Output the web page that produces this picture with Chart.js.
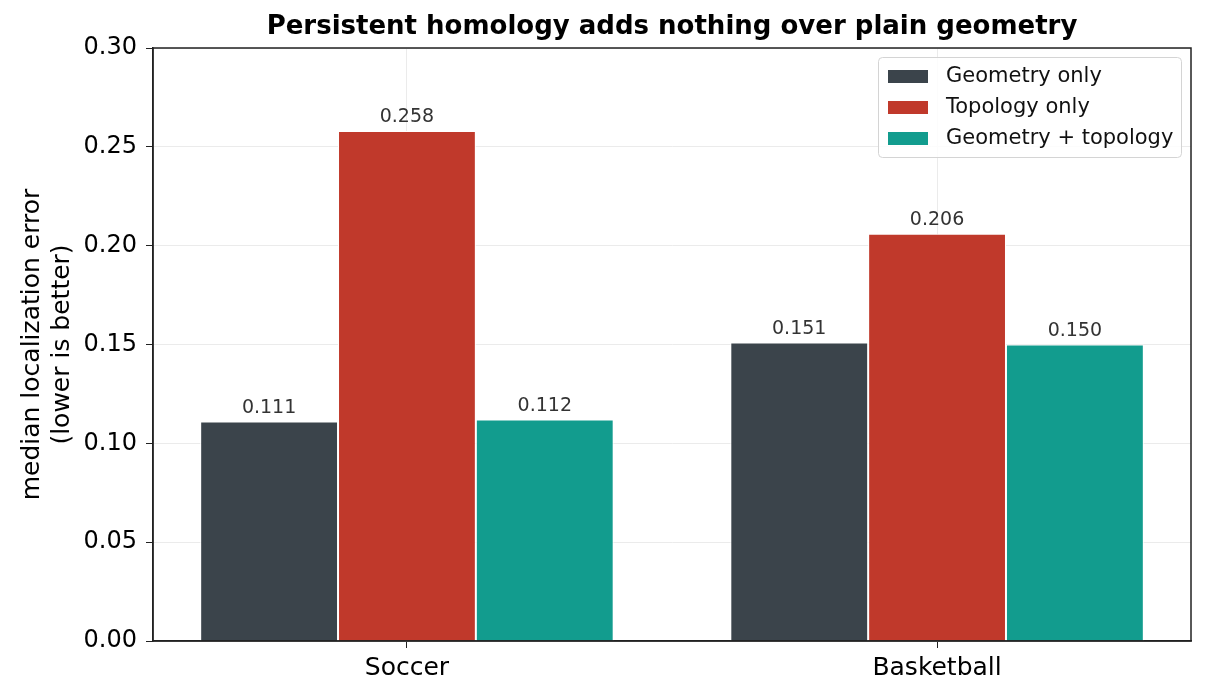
<!DOCTYPE html>
<html>
<head>
<meta charset="utf-8">
<script src="https://cdn.jsdelivr.net/npm/chart.js@4"></script>
<style>
  html, body { margin: 0; padding: 0; background: #fff; }
  #wrap { width: 1206px; height: 696px; }
</style>
</head>
<body>
<div id="wrap"><canvas id="chart" width="1206" height="696"></canvas></div>
<script>
const categories = ["Soccer", "Basketball"];
const seriesNames = ["Geometry only", "Topology only", "Geometry + topology"];
const geometryOnly = [0.111, 0.151];
const topologyOnly = [0.258, 0.206];
const geometryTopology = [0.112, 0.150];
const yTicks = [0, 0.05, 0.1, 0.15, 0.2, 0.25, 0.3];
const seriesColors = ["#3b444b", "#c0392b", "#129c8e"];

const FONT = "'DejaVu Sans', sans-serif";
const TITLE = "Persistent homology adds nothing over plain geometry";

// value labels above each bar
const barLabels = {
  id: "barLabels",
  afterDatasetsDraw(chart) {
    const ctx = chart.ctx;
    ctx.save();
    ctx.font = "19px " + FONT;
    ctx.fillStyle = "#333";
    ctx.textAlign = "center";
    ctx.textBaseline = "bottom";
    chart.data.datasets.forEach((ds, i) => {
      chart.getDatasetMeta(i).data.forEach((bar, j) => {
        ctx.fillText(ds.data[j].y.toFixed(3), bar.x, bar.y - 4);
      });
    });
    ctx.restore();
  },
};

// frame, title over the plot, legend box in the top right corner
const frameAndLegend = {
  id: "frameAndLegend",
  afterDraw(chart) {
    const ctx = chart.ctx;
    const a = chart.chartArea;
    ctx.save();
    ctx.strokeStyle = "#222";
    ctx.lineWidth = 1.5;
    ctx.strokeRect(a.left, a.top, a.right - a.left, a.bottom - a.top);

    ctx.fillStyle = "#000";
    ctx.font = "bold 26px " + FONT;
    ctx.textAlign = "center";
    ctx.textBaseline = "middle";
    ctx.fillText(TITLE, (a.left + a.right) / 2, 27);

    const w = 303, h = 100;
    const x = a.right - 10 - w, y = a.top + 9;
    ctx.fillStyle = "rgba(255,255,255,0.85)";
    ctx.strokeStyle = "#d4d4d4";
    ctx.lineWidth = 1;
    ctx.beginPath();
    ctx.roundRect(x + 0.5, y + 0.5, w, h, 4);
    ctx.fill();
    ctx.stroke();

    ctx.font = "21px " + FONT;
    ctx.textAlign = "left";
    chart.data.datasets.forEach((ds, i) => {
      const cy = y + 19 + i * 31;
      ctx.fillStyle = ds.backgroundColor;
      ctx.fillRect(x + 10, cy - 6, 40, 13);
      ctx.fillStyle = "#111";
      ctx.fillText(ds.label, x + 68, cy + 1);
    });
    ctx.restore();
  },
};

new Chart(document.getElementById("chart"), {
  type: "bar",
  data: {
    datasets: [geometryOnly, topologyOnly, geometryTopology].map((d, i) => ({
      label: seriesNames[i],
      data: d.map((v, j) => ({ x: j, y: v })),
      backgroundColor: seriesColors[i],
      borderColor: "#fff",
      borderWidth: 1,
      categoryPercentage: 0.78,
      barPercentage: 1.0,
    })),
  },
  options: {
    responsive: false,
    devicePixelRatio: 1,
    animation: false,
    layout: { padding: { left: 0, right: 15, top: 48, bottom: 0 } },
    plugins: {
      legend: { display: false },
      tooltip: { enabled: false },
    },
    scales: {
      x: {
        type: "linear",
        min: -0.479,
        max: 1.479,
        offset: false,
        afterFit: (s) => { s.height = 55; },
        afterBuildTicks: (s) => { s.ticks = categories.map((_, i) => ({ value: i })); },
        grid: {
          offset: false,
          color: "#ebebeb",
          tickColor: "#222",
          tickLength: 7,
        },
        border: { display: true, color: "#222", width: 1.5 },
        ticks: {
          color: "#000",
          font: { family: FONT, size: 25 },
          padding: 5,
          callback: (v) => categories[v],
        },
      },
      y: {
        min: 0,
        max: 0.3,
        afterFit: (s) => { s.width = 153; },
        afterBuildTicks: (s) => { s.ticks = yTicks.map((v) => ({ value: v })); },
        grid: { color: "#ebebeb", tickColor: "#222", tickLength: 7 },
        border: { display: true, color: "#222", width: 1.5 },
        ticks: {
          color: "#000",
          font: { family: FONT, size: 24 },
          padding: 9,
          callback: (v) => v.toFixed(2),
        },
        title: {
          display: true,
          text: ["median localization error", "(lower is better)"],
          color: "#000",
          font: { family: FONT, size: 25 },
          padding: { top: 17, bottom: 0 },
        },
      },
    },
  },
  plugins: [barLabels, frameAndLegend],
});
</script>
</body>
</html>
